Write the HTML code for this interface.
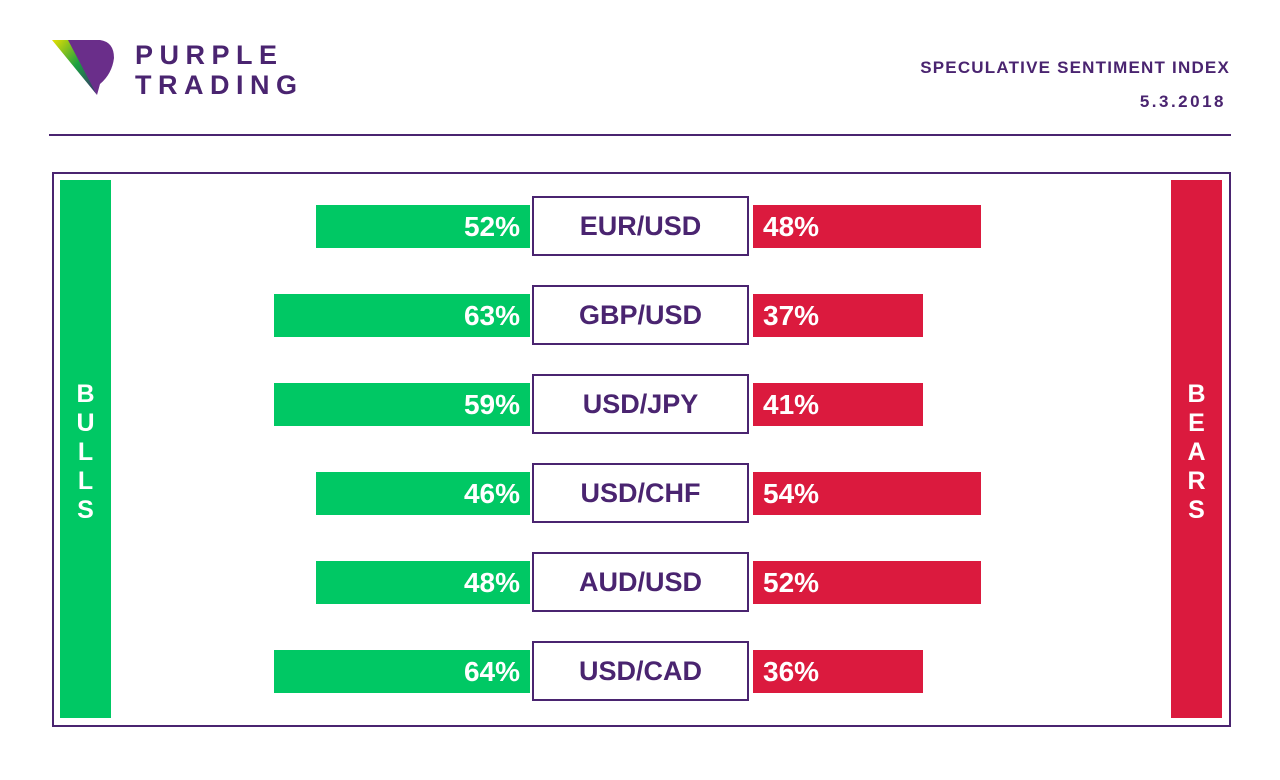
<!DOCTYPE html>
<html><head><meta charset="utf-8"><style>
body{margin:0;width:1280px;height:780px;background:#fff;font-family:"Liberation Sans",sans-serif;overflow:hidden;position:relative}
.a{position:absolute}
.pur{color:#4a2470}
</style></head><body>
<svg class="a" style="left:52px;top:40px" width="70" height="58" viewBox="0 0 70 58">
<defs><linearGradient id="g" x1="0" y1="0" x2="1" y2="1"><stop offset="0" stop-color="#e8e000"/><stop offset="0.5" stop-color="#1aa040"/><stop offset="1" stop-color="#3a2a70"/></linearGradient></defs>
<polygon points="0,0 18,0 45,55" fill="url(#g)"/>
<path d="M16,0 L48,0 Q62,2 62,18 Q60,34 48,44 L45,55 Z" fill="#6a2e8a"/>
</svg>
<div class="a pur" style="left:135px;top:40px;font-size:27px;font-weight:bold;letter-spacing:6.5px;line-height:30px">PURPLE<br>TRADING</div>
<div class="a pur" style="right:50px;top:58px;font-size:17px;font-weight:bold;letter-spacing:1.2px">SPECULATIVE SENTIMENT INDEX</div>
<div class="a pur" style="right:54px;top:92px;font-size:17px;font-weight:bold;letter-spacing:2.5px">5.3.2018</div>
<div class="a" style="left:49px;top:134px;width:1182px;height:2px;background:#4a2470"></div>
<div class="a" style="left:52px;top:172px;width:1175px;height:551px;border:2px solid #4a2470"></div>
<div class="a" style="left:60px;top:180px;width:51px;height:538px;background:#00c864;color:#fff;font-weight:bold;font-size:25px;text-align:center;line-height:29px;box-sizing:border-box;padding-top:200px">B<br>U<br>L<br>L<br>S</div>
<div class="a" style="left:1171px;top:180px;width:51px;height:538px;background:#db1a3e;color:#fff;font-weight:bold;font-size:25px;text-align:center;line-height:29px;box-sizing:border-box;padding-top:200px">B<br>E<br>A<br>R<br>S</div>
<div id="rows"></div>
<script>
const pairs=["EUR/USD","GBP/USD","USD/JPY","USD/CHF","AUD/USD","USD/CAD"];
const bulls=[52,63,59,46,48,64];
const bears=[48,37,41,54,52,36];
function bullW(v){return v>55?256:214;}
function bearW(v){return v>45?228:170;}
function rowY(i){return 227+i*89;}
const root=document.getElementById('rows');
pairs.forEach((p,i)=>{
  const cy=rowY(i);
  const g=document.createElement('div');g.className='a';
  
  
  const gw=bullW(bulls[i]);
  g.style.cssText=`left:${530-gw}px;top:${cy-22}px;width:${gw}px;height:43px;background:#00c864;color:#fff;font-weight:bold;font-size:28px;line-height:43px;text-align:right;padding-right:10px;box-sizing:border-box`;
  g.textContent=bulls[i]+'%';root.appendChild(g);
  const r=document.createElement('div');r.className='a';
  
  
  const rw=bearW(bears[i]);
  r.style.cssText=`left:753px;top:${cy-22}px;width:${rw}px;height:43px;background:#db1a3e;color:#fff;font-weight:bold;font-size:28px;line-height:43px;padding-left:10px;box-sizing:border-box`;
  r.textContent=bears[i]+'%';root.appendChild(r);
  const l=document.createElement('div');l.className='a pur';
  
  
  l.style.cssText=`left:532px;top:${cy-31}px;width:217px;height:60px;border:2px solid #4a2470;box-sizing:border-box;text-align:center;line-height:56px;font-weight:bold;font-size:27px;background:#fff`;
  l.textContent=p;root.appendChild(l);
});
</script>
</body></html>
